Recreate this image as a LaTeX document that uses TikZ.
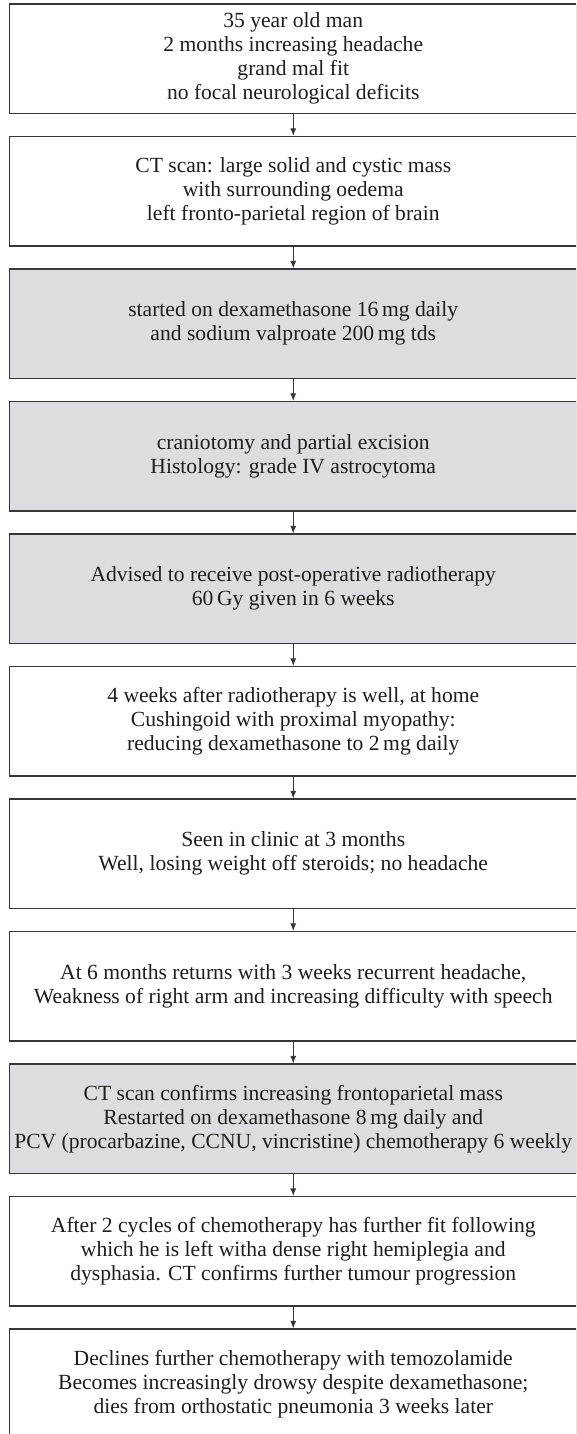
\documentclass[tikz,border=0pt]{standalone}
\usepackage{fontspec}
\setmainfont{Liberation Serif}
\usetikzlibrary{arrows.meta}

\definecolor{edgegray}{RGB}{55,55,55}
\definecolor{boxgray}{RGB}{220,221,224}
\definecolor{inkgray}{RGB}{30,30,30}

\tikzset{
  stage/.style={draw=edgegray, line width=1.2pt, fill=white, rectangle,
    minimum width=567.5pt, minimum height=109.5pt, inner sep=0pt,
    align=center, text=inkgray, font=\fontsize{21.6}{24}\selectfont},
  treated/.style={stage, fill=boxgray},
  flow/.style={draw=edgegray, line width=1pt,
    -{Latex[length=7.5pt,width=6pt]}}
}

\begin{document}
\begin{tikzpicture}[x=1pt,y=1pt]
  \useasboundingbox (0,0) rectangle (576,-1434);
  \clip (0,0) rectangle (576,-1434);
  \fill[white] (0,0) rectangle (576,-1434);

  % box i has its top edge at 4 + 132.5 i
  \node[stage]   (b1)  at (293.25,-58.75)   {35 year old man\\2 months increasing headache\\grand mal fit\\no focal neurological deficits};
  \node[stage]   (b2)  at (293.25,-191.25)  {CT scan: large solid and cystic mass\\with surrounding oedema\\left fronto-parietal region of brain};
  \node[treated] (b3)  at (293.25,-323.75)  {started on dexamethasone 16\,mg daily\\and sodium valproate 200\,mg tds};
  \node[treated] (b4)  at (293.25,-456.25)  {craniotomy and partial excision\\Histology: grade IV astrocytoma};
  \node[treated] (b5)  at (293.25,-588.75)  {Advised to receive post-operative radiotherapy\\60\,Gy given in 6 weeks};
  \node[stage]   (b6)  at (293.25,-721.25)  {4 weeks after radiotherapy is well, at home\\Cushingoid with proximal myopathy:\\reducing dexamethasone to 2\,mg daily};
  \node[stage]   (b7)  at (293.25,-853.75)  {Seen in clinic at 3 months\\Well, losing weight off steroids; no headache};
  \node[stage]   (b8)  at (293.25,-986.25)  {At 6 months returns with 3 weeks recurrent headache,\\Weakness of right arm and increasing difficulty with speech};
  \node[treated] (b9)  at (293.25,-1118.75) {CT scan confirms increasing frontoparietal mass\\Restarted on dexamethasone 8\,mg daily and\\PCV (procarbazine, CCNU, vincristine) chemotherapy 6 weekly};
  \node[stage]   (b10) at (293.25,-1251.25) {After 2 cycles of chemotherapy has further fit following\\which he is left witha dense right hemiplegia and\\dysphasia. CT confirms further tumour progression};
  \node[stage]   (b11) at (293.25,-1383.75) {Declines further chemotherapy with temozolamide\\Becomes increasingly drowsy despite dexamethasone;\\dies from orthostatic pneumonia 3 weeks later};

  \foreach \a/\b in {b1/b2,b2/b3,b3/b4,b4/b5,b5/b6,b6/b7,b7/b8,b8/b9,b9/b10,b10/b11}
    \draw[flow] (\a.south) -- (\b.north);
\end{tikzpicture}
\end{document}
